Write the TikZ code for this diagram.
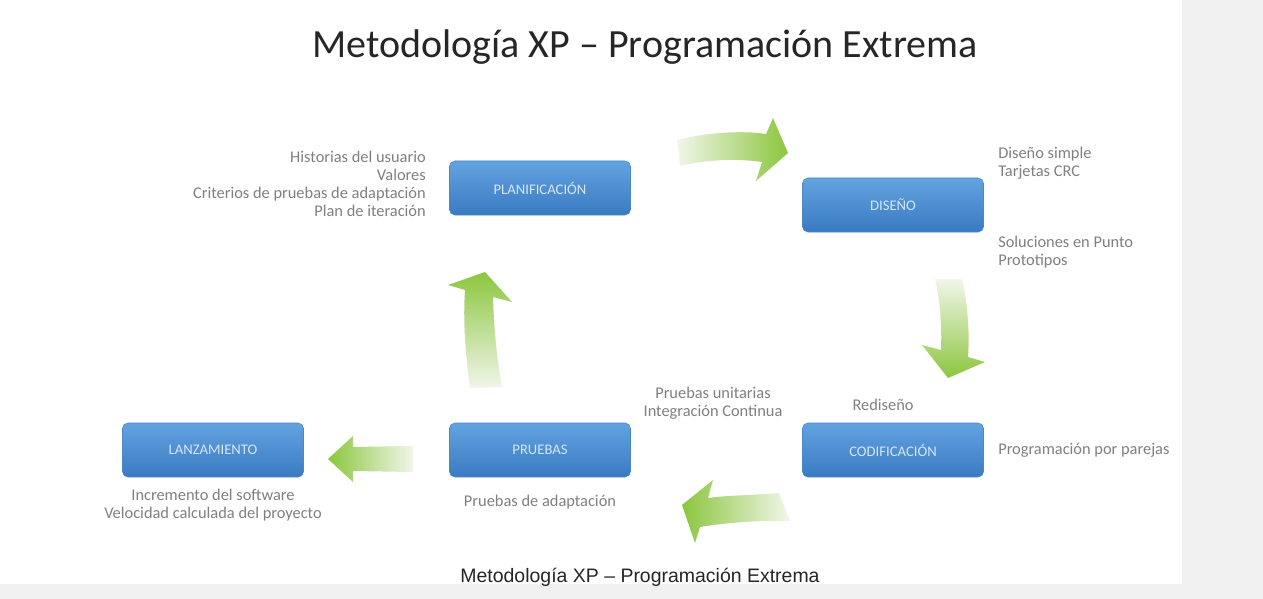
\documentclass[tikz,border=0pt]{standalone}
\usepackage{fontspec}
\setmainfont{Carlito}
\newfontfamily\capfont{Liberation Sans}
\definecolor{bgray}{HTML}{F0F0F0}
\definecolor{lbl}{HTML}{808080}
\definecolor{boxtop}{HTML}{62A3E0}
\definecolor{boxbot}{HTML}{3A7AC2}
\definecolor{boxline}{HTML}{4C88C9}
\definecolor{boxtxt}{HTML}{D5E6F7}
\definecolor{gdark}{HTML}{8CC63E}
\definecolor{gpale}{HTML}{F1F6EA}
\definecolor{titlec}{HTML}{262626}
\tikzset{
  phase/.style={rectangle, rounded corners=4pt, draw=boxline, line width=0.4pt,
    top color=boxtop, bottom color=boxbot, minimum width=135.75pt, minimum height=40.5pt,
    text=boxtxt, font=\fontsize{11pt}{13pt}\selectfont, inner sep=0pt},
  lab/.style={text=lbl, font=\fontsize{12.3pt}{13.5pt}\selectfont, inner sep=0pt},
  garrow/.style={draw=none}
}
\begin{document}
\begin{tikzpicture}[x=0.75pt, y=-0.75pt]
\useasboundingbox (0,0) rectangle (1263,599);
\fill[bgray] (0,0) rectangle (1263,599);
\fill[white] (0,0) rectangle (1182,584);
% title
\node[text=titlec, font=\fontsize{30pt}{34pt}\selectfont, inner sep=0pt] (title) at (645,47) {Metodología XP – Programación Extrema};
% boxes
\node[phase] (plan) at (540,188) {PLANIFICACIÓN};
\node[phase] (dis) at (893,205) {DISEÑO};
\node[phase] (cod) at (893,450) {CODIFICACIÓN};
\node[phase] (pru) at (540,450) {PRUEBAS};
\node[phase] (lan) at (213,450) {LANZAMIENTO};
% labels
\node[lab, anchor=east, align=right] (planlbl) at (426,184) {Historias del usuario\\Valores\\Criterios de pruebas de adaptación\\Plan de iteración};
\node[lab, anchor=west, align=left] (dislbl1) at (998,163.5) {Diseño simple\\Tarjetas CRC};
\node[lab, anchor=west, align=left] (dislbl2) at (998,252) {Soluciones en Punto\\Prototipos};
\node[lab, align=center] (prulbl1) at (713,403.5) {Pruebas unitarias\\Integración Continua};
\node[lab] (redis) at (883,405) {Rediseño};
\node[lab, anchor=west] (prog) at (998,450) {Programación por parejas};
\node[lab] (pruad) at (540,502) {Pruebas de adaptación};
\node[lab, align=center] (lanlbl) at (213,505) {Incremento del software\\Velocidad calculada del proyecto};
% caption
\node[text=black!85, font=\capfont\fontsize{14.6pt}{16pt}\selectfont, inner sep=0pt] (caption) at (640,577) {Metodología XP – Programación Extrema};
% arrows
\shade[garrow, left color=gpale, right color=gdark] (677,140) .. controls (705,133) and (740,130) .. (766,134) -- (773,118) -- (788,153) -- (756,181) -- (762,162) .. controls (735,158) and (705,160) .. (680,166) -- cycle;
\shade[garrow, top color=gpale, bottom color=gdark] (935,279) .. controls (940,300) and (942,325) .. (941,350) -- (922,345) -- (948,378) -- (985,362) -- (968,357) .. controls (970,330) and (967,300) .. (962,279) -- cycle;
\shade[garrow, left color=gdark, right color=gpale] (779,493) .. controls (760,495) and (730,495) .. (708,498) -- (713,480) -- (682,505) -- (695,543) -- (700,527) .. controls (730,522) and (765,520) .. (790,521) -- cycle;
\shade[garrow, left color=gdark, right color=gpale] (413,446) -- (353,447) -- (353,436) -- (328,459) -- (353,482) -- (353,471) -- (413,472) -- cycle;
\shade[garrow, top color=gdark, bottom color=gpale] (470,388) .. controls (465,350) and (463,320) .. (465,290) -- (448,285) -- (485,272) -- (512,302) -- (493,297) .. controls (494,330) and (497,360) .. (502,387) -- cycle;
\end{tikzpicture}
\end{document}
